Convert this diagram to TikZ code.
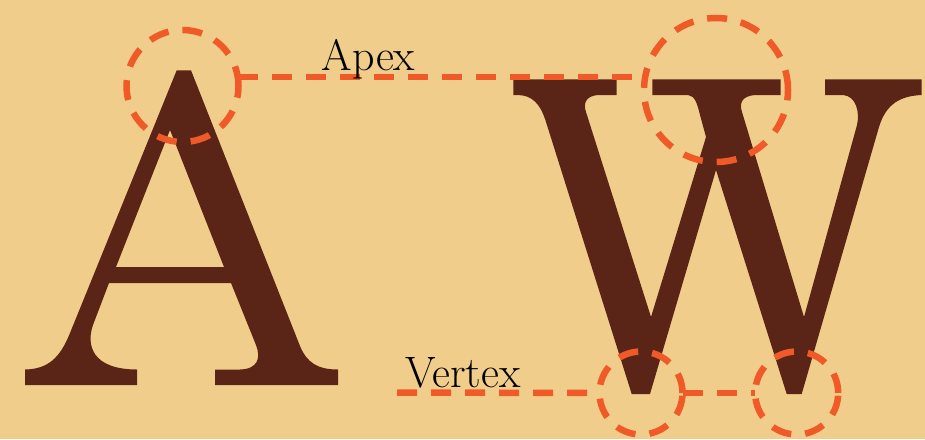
\documentclass[tikz,border=0pt]{standalone}
\usepackage{fontspec}
\definecolor{bgtan}{RGB}{240,205,138}
\definecolor{glyphbrown}{RGB}{90,36,23}
\definecolor{markorange}{RGB}{240,90,40}
\tikzset{
  ring/.style={circle, draw=markorange, line width=6.5pt, dash pattern=on 20pt off 14pt, inner sep=0pt, outer sep=0pt, minimum size=#1},
  dline/.style={draw=markorange, line width=6.5pt, dash pattern=on 20pt off 14pt},
  lbl/.style={anchor=base west, inner sep=0pt, text=black, font=\fontsize{44}{52}\selectfont},
  glyph/.style={fill=glyphbrown, draw=none}
}
\begin{document}
\begin{tikzpicture}[x=1pt,y=-1pt]
\useasboundingbox (0,0) rectangle (925,439);
\fill[bgtan] (0,0) rectangle (925,439);
% letter A
\fill[glyph, even odd rule]
  (176.7,70.3) -- (191,70.3) -- (300,346)
  .. controls (307,363) and (318,369.5) .. (338,369.5) -- (338,385) -- (215,385) -- (215,369.5) -- (240,369.5)
  .. controls (258,369) and (261,358) .. (256,345) -- (231,283) -- (109,283) -- (93,325)
  .. controls (86,345) and (92,369.5) .. (137,369.5) -- (137,385) -- (25,385) -- (25,369.5)
  .. controls (48,369) and (60,358) .. (70,333) -- cycle
  (170,130) -- (224,267) -- (116,267) -- cycle;
% letter W
\fill[glyph]
  (513.3,79.3) -- (616.7,79.3) -- (616.7,95) -- (598,95)
  .. controls (586,96) and (583,103) .. (586,112) -- (651,317) -- (706,137) -- (700,115)
  .. controls (697,103) and (695,96) .. (688,95) -- (652.3,95) -- (652.3,79.3) -- (780.7,79.3) -- (780.7,95) -- (755,95)
  .. controls (742,96) and (739,103) .. (742,112) -- (804,317) -- (857,125)
  .. controls (860,112) and (856,96) .. (843,95) -- (825,95) -- (825,79.3) -- (921.7,79.3) -- (921.7,95)
  .. controls (900,96) and (886,104) .. (879,127) -- (801.7,394) -- (786.7,394) -- (716,170) -- (650,394) -- (631.7,394) -- (546,122)
  .. controls (540,103) and (532,95.5) .. (518,95) -- (513.3,95) -- cycle;
% circles
\node[ring=112pt] (c1) at (182.5,86) {};
\node[ring=144pt] (c2) at (716,90) {};
\node[ring=83pt] (c3) at (641,393) {};
\node[ring=83pt] (c4) at (796.7,393) {};
% connectors
\draw[dline] (c1.9.5) -- (c1.9.5 -| c2.west);
\coordinate (v0) at (397,392.5);
\draw[dline] (v0) -- (c3.west);
\draw[dline] (c3.east) -- (c4.west);
% labels
\node[lbl] (apex) at (321.7,70) {Apex};
\node[lbl] (vertex) at (405,387) {Vertex};
\end{tikzpicture}
\end{document}
